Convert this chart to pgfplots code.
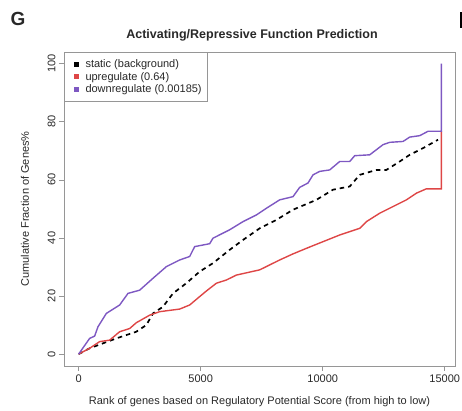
\documentclass[border=0pt]{standalone}
\usepackage{fontspec}
\setmainfont{Liberation Sans}
\usepackage{pgfplots}
\pgfplotsset{compat=1.18}
\definecolor{upred}{RGB}{222,70,70}
\definecolor{downpurple}{RGB}{126,88,194}
\definecolor{boxgray}{RGB}{150,150,150}
\definecolor{txt}{RGB}{40,40,40}
\begin{document}
\begin{tikzpicture}
\path[use as bounding box] (-64pt,-45pt) rectangle (398pt,366pt);
\begin{axis}[
  at={(0pt,0pt)}, anchor=south west,
  scale only axis, width=391pt, height=314pt,
  xmin=-600, xmax=15420, ymin=-4.1, ymax=104,
  xtick={0,5000,10000,15000}, ytick={0,20,40,60,80,100},
  scaled x ticks=false,
  xticklabel style={/pgf/number format/1000 sep={}},
  /pgf/number format/assume math mode=true,
  tick align=outside, xtick pos=bottom, ytick pos=left,
  major tick length=5pt,
  tick style={boxgray, line width=0.6pt},
  axis line style={boxgray, line width=0.6pt},
  ticklabel style={font=\fontsize{11pt}{13pt}\selectfont, text=txt},
  yticklabel style={rotate=90, anchor=south},
  label style={font=\fontsize{11pt}{13pt}\selectfont, text=txt},
  xlabel={Rank of genes based on Regulatory Potential Score (from high to low)},
  ylabel={Cumulative Fraction of Genes\%},
  xlabel style={at={(axis description cs:0.5,0)}, anchor=center, yshift=-36pt},
  ylabel style={at={(axis description cs:0,0.5)}, anchor=center, rotate=0, yshift=39pt},
  legend style={at={(0,1)}, anchor=north west, draw=boxgray, line width=0.6pt,
    font=\fontsize{11pt}{12pt}\selectfont, text=txt, inner xsep=3.5pt, inner ysep=5.5pt,
    row sep=-1pt},
  legend cell align=left,
  legend image code/.code={\fill[#1, solid, draw=none] (0pt,-2.5pt) rectangle (5pt,2.5pt); \path (-5pt,0pt) (9pt,0pt);},
]
\addplot[black, line width=1.7pt, dash pattern=on 4.5pt off 4pt] coordinates {
(0,0)(450,2)(997,3.7)(1543,5.4)(2363,7.7)(2773,10)(3046,14)(3456,16.3)(3866,20.9)
(4412,24.4)(4959,28.4)(5504,31.3)(6188,35.9)(6734,39.3)(7418,43.3)(8102,46.2)
(8783,49.7)(9740,53.1)(10422,56.6)(11106,57.7)(11516,61.7)(12198,63.4)(12608,63.4)
(13154,66.3)(13565,68.6)(14111,70.9)(14725,73.8)};
\addlegendentry{static (background)}
\addplot[upred, line width=1.4pt] coordinates {
(0,0)(450,2)(860,4.3)(1270,4.8)(1680,7.7)(2090,8.8)(2363,10.8)(2910,13.4)(3320,14.6)
(4139,15.5)(4549,16.9)(4959,19.8)(5231,21.7)(5643,24.4)(6052,25.5)(6462,27.2)
(7418,29)(8237,32.4)(8783,34.5)(9330,36.4)(10012,38.7)(10696,41)(11516,43.3)
(11790,45.6)(12335,48.5)(12881,50.8)(13429,53.1)(13838,55.4)(14248,56.9)
(14860,56.9)(14860,76.7)};
\addlegendentry{upregulate (0.64)}
\addplot[downpurple, line width=1.4pt] coordinates {
(0,0)(450,5.4)(656,6.2)(792,9.4)(1134,14)(1680,16.9)(2022,20.9)(2500,22)(3046,26.1)
(3593,30.1)(4139,32.4)(4549,33.6)(4754,37)(5368,38)(5504,39.9)(6188,42.8)(6734,45.6)
(7282,47.9)(7692,50.2)(8237,53.1)(8783,54.2)(9057,57.4)(9397,58.9)(9603,61.7)
(9876,62.9)(10286,63.4)(10696,66.3)(11106,66.3)(11311,68.3)(11925,68.6)(12471,72.1)
(12745,72.9)(13290,73.2)(13565,74.7)(13975,75.2)(14315,76.7)(14860,76.7)(14860,100)};
\addlegendentry{downregulate (0.00185)}
\end{axis}
\node[font=\bfseries\fontsize{12.5pt}{14pt}\selectfont, text=txt] at (188pt,331pt) {Activating/Repressive Function Prediction};
\node[font=\bfseries\fontsize{19pt}{22pt}\selectfont, text=txt] at (-46pt,347pt) {G};
\fill[black] (396pt,338pt) rectangle (398pt,354pt);
\end{tikzpicture}
\end{document}
